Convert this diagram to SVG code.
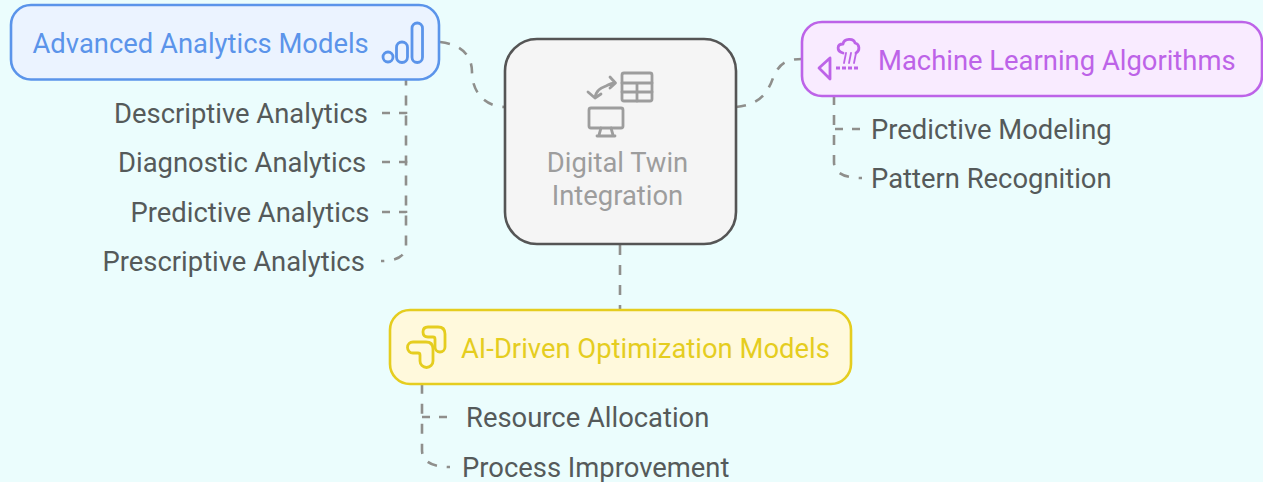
<svg xmlns="http://www.w3.org/2000/svg" width="1263" height="482" viewBox="0 0 1263 482">
<style>
text{font-family:Roboto,"Liberation Sans",sans-serif;font-size:27.4px}
.leaf{fill:#555a5a}
.c{fill:none;stroke:#8f8f8c;stroke-width:2.6;stroke-dasharray:10 10}
.e{stroke-dashoffset:7}
.s{fill:none;stroke:#8f8f8c;stroke-width:2.6;stroke-dasharray:8 9}
.i{fill:none;stroke-width:2.8;stroke-linecap:round;stroke-linejoin:round}
</style>
<rect width="1263" height="482" fill="#ebfdfd"/>
<g id="connectors">
<path class="c" d="M440 42C466 45 472 60 472 72C472 92 485 107 505 107"/>
<path class="c" d="M736 107C760 105 768 92 773 78C779 64 785 59 802 59"/>
<path class="c" d="M620 245V310"/>
<path class="c e" d="M381 261Q406 261 406 245V80"/>
<path class="s" d="M382 113H406V120"/>
<path class="s" d="M382 162H406V169"/>
<path class="s" d="M382 212H406V219"/>
<path class="c e" d="M862 178Q834 178 834 162V97"/>
<path class="s" d="M860 129H834V136"/>
<path class="c e" d="M450 467Q422 467 422 450V385"/>
<path class="s" d="M447 417H422V424"/>
</g>
<g id="node-advanced">
<rect x="11" y="5" width="428" height="74.500" rx="20" fill="#ebf3ff" stroke="#5b94ea" stroke-width="2.600"/>
<text x="32.500" y="52.500" fill="#5b94ea">Advanced Analytics Models</text>
<g class="i" stroke="#5b94ea"><circle cx="388" cy="57" r="5"/><rect x="396.500" y="42" width="11" height="20.500" rx="5.500"/><rect x="412" y="23" width="10.500" height="39.500" rx="5.250"/></g>
</g>
<g id="leaf-descriptive"><text class="leaf" x="114" y="122.600">Descriptive Analytics</text></g>
<g id="leaf-diagnostic"><text class="leaf" x="118" y="171.600">Diagnostic Analytics</text></g>
<g id="leaf-predictive"><text class="leaf" x="130.500" y="221.600">Predictive Analytics</text></g>
<g id="leaf-prescriptive"><text class="leaf" x="102.500" y="270.600">Prescriptive Analytics</text></g>
<g id="node-center">
<rect x="505" y="39" width="231" height="205" rx="32" fill="#f5f5f5" stroke="#555" stroke-width="2.600"/>
<g class="i" stroke="#9d9d9d">
<rect x="622" y="73" width="30" height="28" rx="2"/><path d="M622 83H652M622 92H652M637 83V101"/>
<path d="M595 98C596 90 601 88 606 86C609 84.500 612 83 615 83M610 77L615.500 83L610 88M588 92L595 98L601 94"/>
<rect x="589" y="108" width="34" height="20" rx="2"/><path d="M601 128L599 135M611 128L613 135M597 136H615"/>
</g>
<text x="617.500" y="171.600" text-anchor="middle" fill="#9d9d9d">Digital Twin</text>
<text x="617.500" y="204.600" text-anchor="middle" fill="#9d9d9d">Integration</text>
</g>
<g id="node-ml">
<rect x="802" y="22" width="460" height="74" rx="20" fill="#f9ebff" stroke="#bd63e8" stroke-width="2.600"/>
<g class="i" stroke="#bd63e8" stroke-width="2.400">
<path d="M830 58L819 68L830 79Z"/>
<path d="M836 68H858" stroke-dasharray="4 2" stroke-linecap="butt"/>
<path d="M843 53C836 51 837 44 843 44C844 38 854 38 855 43C860 44 860 51 856 53"/>
<path d="M844 63L846 53M849 63L851 53M854 63L856 53" stroke-width="1.800"/>
</g>
<text x="878" y="69.500" fill="#bd63e8">Machine Learning Algorithms</text>
</g>
<g id="leaf-modeling"><text class="leaf" x="871" y="138.600">Predictive Modeling</text></g>
<g id="leaf-pattern"><text class="leaf" x="871" y="187.600">Pattern Recognition</text></g>
<g id="node-ai">
<rect x="390" y="310" width="461" height="74" rx="20" fill="#fff9dc" stroke="#e5cd1f" stroke-width="2.600"/>
<g class="i" stroke="#e5cd1f">
<path d="M423 332Q423 327 428 327H438Q445 327 445 334V347A5 5 0 0 1 435 347V339Q435 337 433 337H428Q423 337 423 332Z"/>
<path d="M413 342H426Q433 342 433 349V361A6.500 6.500 0 0 1 420 361V355Q420 353 418 353H413A5.500 5.500 0 0 1 413 342Z"/>
</g>
<text x="461" y="357.500" fill="#e5cd1f">AI-Driven Optimization Models</text>
</g>
<g id="leaf-resource"><text class="leaf" x="466" y="426.600">Resource Allocation</text></g>
<g id="leaf-process"><text class="leaf" x="462" y="476.600">Process Improvement</text></g>
</svg>
